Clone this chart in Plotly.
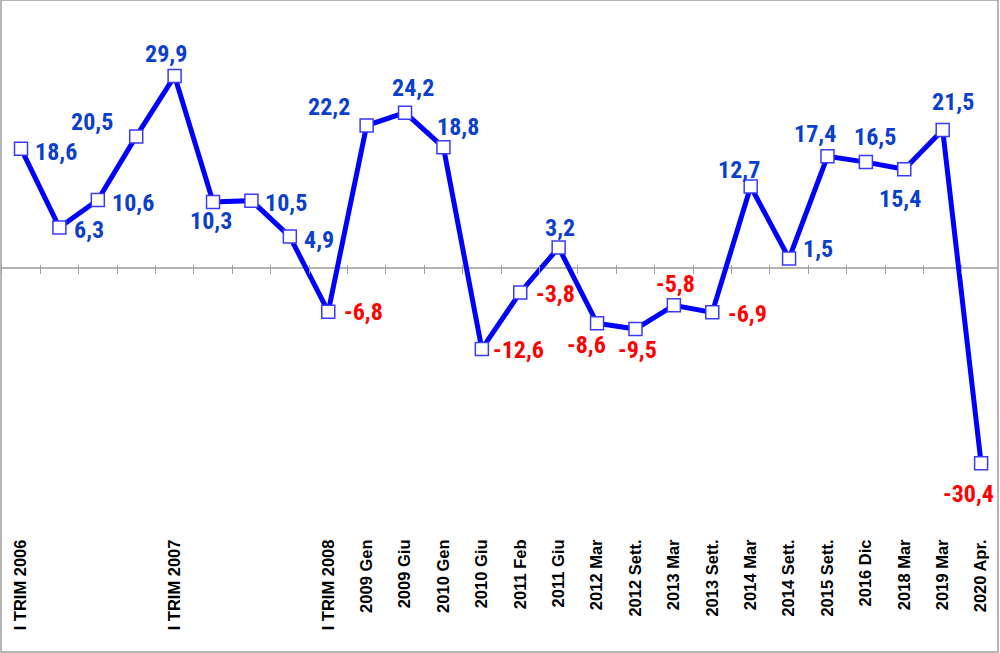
import plotly.graph_objects as go

# ---- data ----
period_labels = ["I TRIM 2006", "", "", "", "I TRIM 2007", "", "", "", "I TRIM 2008",
                 "2009 Gen", "2009 Giu", "2010 Gen", "2010 Giu", "2011 Feb", "2011 Giu",
                 "2012 Mar", "2012 Sett.", "2013 Mar", "2013 Sett.", "2014 Mar",
                 "2014 Sett.", "2015 Sett.", "2016 Dic", "2018 Mar", "2019 Mar", "2020 Apr."]
values = [18.6, 6.3, 10.6, 20.5, 29.9, 10.3, 10.5, 4.9, -6.8, 22.2, 24.2, 18.8, -12.6,
          -3.8, 3.2, -8.6, -9.5, -5.8, -6.9, 12.7, 1.5, 17.4, 16.5, 15.4, 21.5, -30.4]

# ---- label placement (pixel offsets of label centre from its point) ----
label_offsets = [(35, 3), (30, 2), (35, 3), (-44, -14), (-9, -22), (-2, 19), (35, 2), (29, 3),
                 (35, 0), (-38, -19), (8, -25), (15, -20), (37, 1), (35, 2), (1, -20),
                 (-11, 22), (2, 21), (2, -21), (35, 2), (-12, -17), (29, -9), (-12, -22),
                 (9, -25), (-4, 30), (10, -28), (-13, 31)]

x_idx = list(range(len(values)))
tick_idx = [i for i, t in enumerate(period_labels) if t]
tick_txt = [period_labels[i] for i in tick_idx]
boundaries = [i - 0.5 for i in range(len(values) + 1)]

Y_MIN, Y_MAX = -59.8, 41.75
X_MIN, X_MAX = -0.521, 25.44


def yfrac(v):
    return (v - Y_MIN) / (Y_MAX - Y_MIN)


label_font = "Roboto Condensed, Liberation Sans, Arial, sans-serif"

fig = go.Figure()
fig.add_trace(go.Scatter(
    x=x_idx, y=values, mode="lines+markers",
    line=dict(color="#0000FF", width=5),
    marker=dict(symbol="square", size=13, color="white",
                line=dict(color="#3A3AFF", width=1.5)),
    hoverinfo="skip", showlegend=False, cliponaxis=False,
))
# invisible helper trace for the tick axis on the zero line
fig.add_trace(go.Scatter(x=x_idx, y=values, mode="lines", line=dict(width=0),
                         opacity=0, xaxis="x2", hoverinfo="skip", showlegend=False))

for i, v in enumerate(values):
    dx, dy = label_offsets[i]
    fig.add_annotation(
        x=i, y=v, xref="x", yref="y", text=f"{v:.1f}".replace(".", ","),
        showarrow=False, xanchor="center", yanchor="middle",
        xshift=dx, yshift=-dy,
        font=dict(family=label_font, size=24, weight="bold",
                  color="#0B3FCC" if v >= 0 else "#FF0000"),
    )

fig.update_layout(
    width=1000, height=653, autosize=False,
    margin=dict(l=1, r=2, t=0, b=1),
    paper_bgcolor="white", plot_bgcolor="white",
    xaxis=dict(range=[X_MIN, X_MAX], showgrid=False, zeroline=False, showline=False,
               anchor="free", position=yfrac(-41.3),
               tickmode="array", tickvals=tick_idx, ticktext=tick_txt, tickangle=-90,
               ticks="", ticklabelstandoff=2,
               tickfont=dict(family="Liberation Sans, Arial, sans-serif", size=16.5,
                             weight="bold", color="black")),
    xaxis2=dict(range=[X_MIN, X_MAX], overlaying="x", anchor="free",
                position=yfrac(0.62), showgrid=False, zeroline=False, showline=False,
                tickmode="array", tickvals=boundaries, ticks="outside", ticklen=9,
                tickwidth=1, tickcolor="#A0A0A0", showticklabels=False),
    yaxis=dict(range=[Y_MIN, Y_MAX], showgrid=False, showticklabels=False,
               zeroline=True, zerolinecolor="#B4B4B4", zerolinewidth=2,
               showline=False, ticks=""),
    shapes=[dict(type="rect", xref="paper", yref="paper", x0=0, x1=1, y0=0, y1=1,
                 line=dict(color="#A0A0A0", width=1.5), fillcolor="rgba(0,0,0,0)",
                 layer="above")],
)

fig.write_html("out.html", config={"displayModeBar": False},
               post_script="document.body.style.margin='0';")
